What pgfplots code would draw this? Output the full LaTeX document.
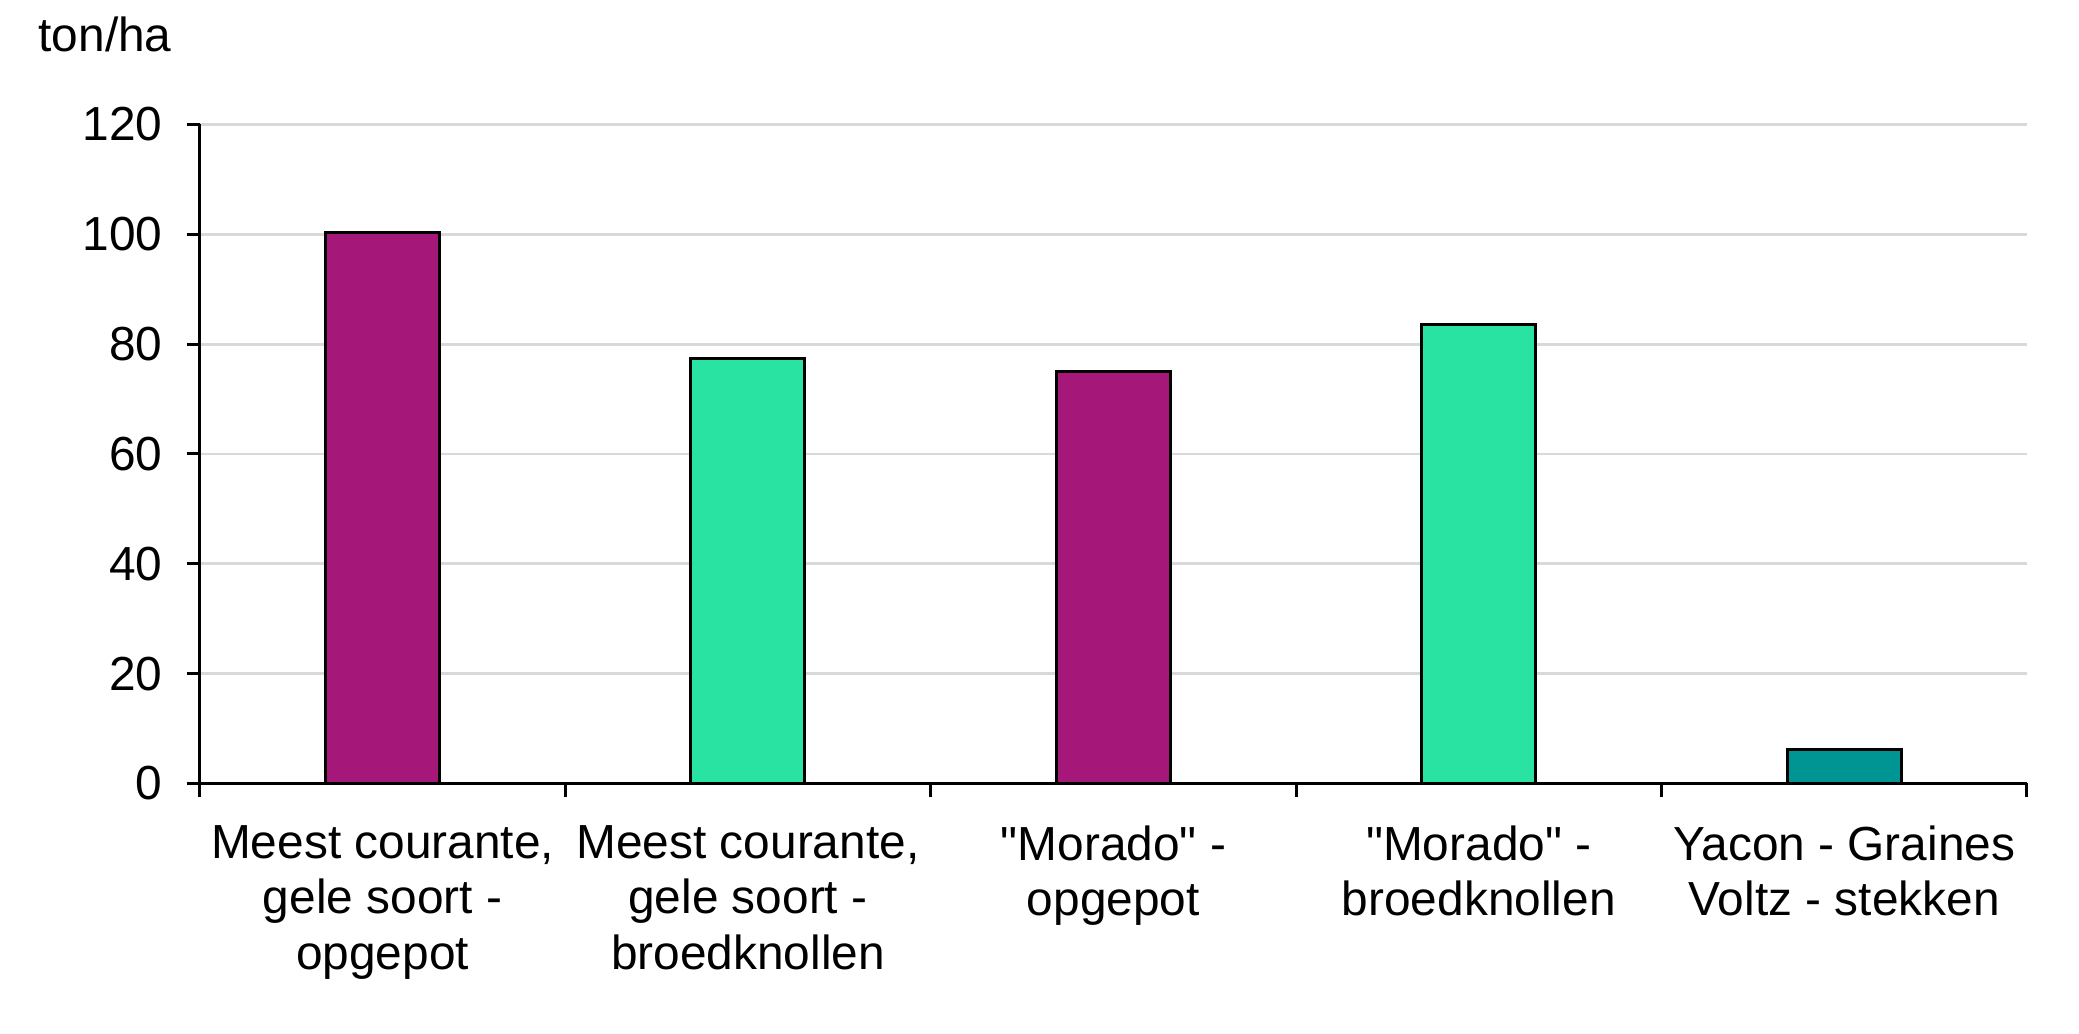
\documentclass[border=0pt]{standalone}
\usepackage{fontspec}
\setmainfont{Liberation Sans}[Ligatures=TeXOff]
\usepackage{pgfplots}
\pgfplotsset{compat=1.18}
\definecolor{cpurple}{HTML}{A6177A}
\definecolor{cgreen}{HTML}{29E3A3}
\definecolor{cteal}{HTML}{009593}
\definecolor{cgrid}{HTML}{D9D9D9}
\begin{document}
\begin{tikzpicture}
\useasboundingbox (-53.3pt,-66.8pt) rectangle (501.1pt,208.9pt);
\begin{axis}[
  at={(0,0)}, anchor=south west,
  scale only axis,
  width=487.2pt, height=175.7pt,
  xmin=0.5, xmax=5.5, ymin=0, ymax=120,
  axis x line*=bottom, axis y line*=left,
  axis line style={line width=0.8pt, -},
  ytick={0,20,...,120},
  ymajorgrids, grid style={cgrid, line width=0.75pt},
  xtick={1,2,3,4,5},
  xticklabels={{Meest courante,\\gele soort -\\opgepot},{Meest courante,\\gele soort -\\broedknollen},{"Morado" -\\opgepot},{"Morado" -\\broedknollen},{Yacon - Graines\\Voltz - stekken}},
  minor xtick={0.5,1.5,...,5.5},
  tick align=outside,
  major tick length=3.5pt, minor tick length=3.5pt,
  xtick style={draw=none},
  minor x tick style={black, line width=0.8pt, draw=black},
  ytick style={black, line width=0.8pt},
  tick label style={font=\fontsize{12.75}{14.8}\selectfont},
  xticklabel style={align=center, yshift=-4.2pt},
  yticklabel style={xshift=-3pt},
  /pgf/number format/assume math mode=true,
  ybar, bar width=30.4pt,
  clip=false,
]
\addplot[fill=cpurple, draw=black, line width=0.8pt, bar shift=0pt] coordinates {(1,100.4) (3,75.0)};
\addplot[fill=cgreen, draw=black, line width=0.8pt, bar shift=0pt] coordinates {(2,77.4) (4,83.5)};
\addplot[fill=cteal, draw=black, line width=0.8pt, bar shift=0pt] coordinates {(5,6.2)};
\end{axis}
\node[anchor=base west, inner sep=0pt, font=\fontsize{12.75}{14.8}\selectfont] at (-43.2pt,195.1pt) {ton/ha};
\end{tikzpicture}
\end{document}
